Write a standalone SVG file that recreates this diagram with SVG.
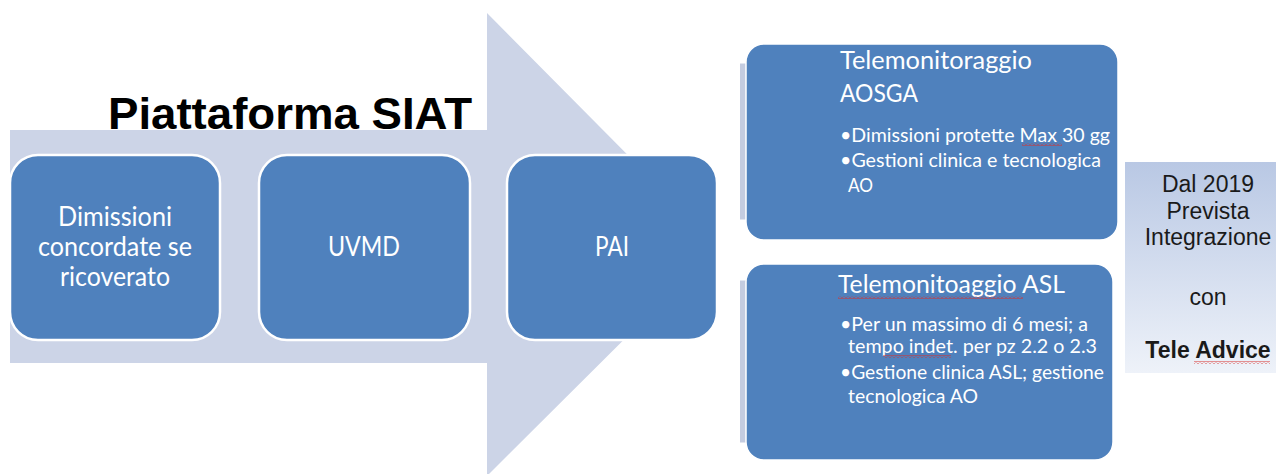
<svg xmlns="http://www.w3.org/2000/svg" width="1277" height="474" viewBox="0 0 1277 474">
<style>
.step{fill:#4F81BD;stroke:#FFFFFF;stroke-width:2.5}
.panel{fill:#4F81BD;stroke:#FFFFFF;stroke-width:1.5}
.bar{fill:#C4CCE0;stroke:#FFFFFF;stroke-width:1}
.wt{font-family:Lato,"Open Sans","Liberation Sans",sans-serif;fill:#FFFFFF}
.big{font-size:26px}
.ttl{font-size:25px}
.bul{font-size:19.5px}
.dk{font-family:"Liberation Sans",Arial,sans-serif;fill:#1A1A1A;font-size:23px;text-anchor:middle}
</style>
<defs>
<linearGradient id="g" x1="0" y1="0" x2="0" y2="1">
<stop offset="0" stop-color="#B9C8E4"/>
<stop offset="1" stop-color="#EEF2F9"/>
</linearGradient>
<pattern id="sq" patternUnits="userSpaceOnUse" width="4" height="3">
<path d="M0,2.5 L2,0.5 L4,2.5" fill="none" stroke="#D9302C" stroke-width="1"/>
</pattern>
</defs>

<g id="arrow">
<polygon points="10,130 487,130 487,13 718,246 487,476 487,363 10,363" fill="#CCD4E7"/>
</g>
<text x="108" y="129" font-family="'Liberation Sans',Arial,sans-serif" font-weight="bold" font-size="45" textLength="364" lengthAdjust="spacingAndGlyphs" fill="#000000">Piattaforma SIAT</text>

<g id="connectors"></g>

<g id="step1">
<rect class="step" x="10" y="155" width="210" height="185" rx="28"/>
<text class="wt big" x="115" y="226" text-anchor="middle" textLength="114" lengthAdjust="spacingAndGlyphs">Dimissioni</text>
<text class="wt big" x="115" y="256" text-anchor="middle" textLength="154" lengthAdjust="spacingAndGlyphs">concordate se</text>
<text class="wt big" x="115" y="286" text-anchor="middle" textLength="110" lengthAdjust="spacingAndGlyphs">ricoverato</text>
</g>
<g id="step2">
<rect class="step" x="259" y="155" width="211" height="185" rx="28"/>
<text class="wt big" x="364" y="256" text-anchor="middle" textLength="72" lengthAdjust="spacingAndGlyphs">UVMD</text>
</g>
<g id="step3">
<rect class="step" x="507" y="155" width="210" height="185" rx="28"/>
<text class="wt big" x="612" y="256" text-anchor="middle" textLength="34" lengthAdjust="spacingAndGlyphs">PAI</text>
</g>

<g id="aosga">
<rect class="bar" x="739.5" y="63" width="7" height="157"/>
<rect class="panel" x="746" y="44" width="372" height="196" rx="18"/>
<text class="wt ttl" x="840" y="69" textLength="192" lengthAdjust="spacingAndGlyphs">Telemonitoraggio</text>
<text class="wt ttl" x="840" y="102" textLength="78" lengthAdjust="spacingAndGlyphs">AOSGA</text>
<text class="wt bul" x="840" y="142" textLength="270" lengthAdjust="spacingAndGlyphs">•Dimissioni protette Max 30 gg</text>
<rect x="1022" y="143" width="40" height="3" fill="url(#sq)"/>
<text class="wt bul" x="840" y="167" textLength="261" lengthAdjust="spacingAndGlyphs">•Gestioni clinica e tecnologica</text>
<text class="wt bul" x="848" y="192" textLength="25" lengthAdjust="spacingAndGlyphs">AO</text>
</g>

<g id="asl">
<rect class="bar" x="739.5" y="280" width="7" height="163"/>
<rect class="panel" x="746" y="264" width="367" height="196" rx="18"/>
<text class="wt ttl" x="838" y="293" textLength="227" lengthAdjust="spacingAndGlyphs">Telemonitoaggio ASL</text>
<rect x="838" y="296" width="185" height="3" fill="url(#sq)"/>
<text class="wt bul" x="840" y="331" textLength="248" lengthAdjust="spacingAndGlyphs">•Per un massimo di 6 mesi; a</text>
<text class="wt bul" x="848" y="353" textLength="249" lengthAdjust="spacingAndGlyphs">tempo indet. per pz 2.2 o 2.3</text>
<rect x="883" y="355" width="68" height="3" fill="url(#sq)"/>
<text class="wt bul" x="840" y="379" textLength="264" lengthAdjust="spacingAndGlyphs">•Gestione clinica ASL; gestione</text>
<text class="wt bul" x="848" y="403" textLength="130" lengthAdjust="spacingAndGlyphs">tecnologica AO</text>
</g>

<g id="teleadvice">
<rect x="1125" y="162" width="151" height="211" fill="url(#g)"/>
<text class="dk" x="1208" y="192">Dal 2019</text>
<text class="dk" x="1208" y="219">Prevista</text>
<text class="dk" x="1208" y="245">Integrazione</text>
<text class="dk" x="1208" y="305">con</text>
<text class="dk" x="1208" y="358" font-weight="bold" font-size="22" fill="#000000">Tele Advice</text>
<rect x="1194" y="361" width="76" height="3" fill="url(#sq)"/>
</g>
</svg>
